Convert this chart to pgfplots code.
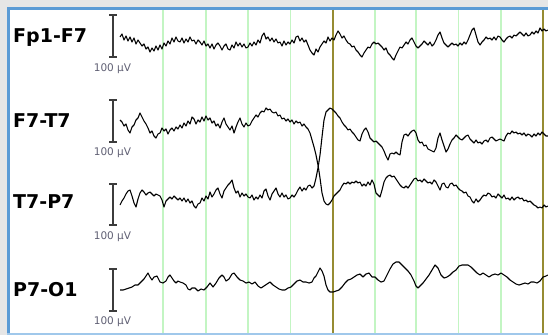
\documentclass[border=0pt]{standalone}
\usepackage{fontspec}
\setmainfont{DejaVu Sans}
\usepackage{pgfplots}
\pgfplotsset{compat=1.18}
\definecolor{bgray}{RGB}{230,230,230}
\definecolor{bblue}{RGB}{91,155,213}
\definecolor{lblue}{RGB}{160,200,235}
\definecolor{gridgreen}{RGB}{195,245,195}
\definecolor{olivel}{RGB}{150,140,50}
\definecolor{scalegray}{RGB}{60,60,60}
\definecolor{unitgray}{RGB}{95,95,115}
\tikzset{sbar/.style={scalegray, line width=1.2bp},
  chlab/.style={anchor=base west, inner sep=0pt, font=\bfseries\fontsize{19bp}{19bp}\selectfont},
  unitlab/.style={anchor=base, inner sep=0pt, text=unitgray, font=\fontsize{10.5bp}{10.5bp}\selectfont}}
\pgfplotsset{trace/.style={black, line width=1.1bp, line join=round, mark=none}}
\begin{document}
\begin{tikzpicture}
% frame (picture units: 1bp = 1 px, y up)
\fill[bgray] (0,0) rectangle (548bp,335bp);
\fill[white] (10bp,2bp) rectangle (548bp,325bp);
\fill[bblue] (7bp,325bp) rectangle (548bp,328bp);
\fill[bblue] (7bp,2bp) rectangle (10bp,328bp);
\fill[lblue] (7bp,0bp) rectangle (548bp,2bp);
\begin{axis}[
  at={(10bp,2bp)}, anchor=south west,
  scale only axis, width=538bp, height=323bp,
  xmin=10, xmax=548, ymin=10, ymax=333, y dir=reverse,
  axis line style={draw=none}, tick style={draw=none},
  xtick={163,206,248,290.7,375,416,458.3,501},
  xticklabels={}, ytick=\empty,
  xmajorgrids, major grid style={gridgreen, line width=1.2bp},
  extra x ticks={332.7,543.3}, extra x tick labels={},
  extra x tick style={grid=major, major grid style={olivel, line width=2bp}},
  clip=false,
  cycle list={{black, mark=none}},
]
% channel labels
\node[chlab] at (axis cs:13,42) {Fp1-F7};
\node[chlab] at (axis cs:13,127) {F7-T7};
\node[chlab] at (axis cs:13,208) {T7-P7};
\node[chlab] at (axis cs:13,296) {P7-O1};
% scale bars (100 uV)
\draw[sbar] (axis cs:109,15) -- (axis cs:117,15) (axis cs:113,15) -- (axis cs:113,57) (axis cs:109,57) -- (axis cs:117,57);
\draw[sbar] (axis cs:109,100) -- (axis cs:117,100) (axis cs:113,100) -- (axis cs:113,142) (axis cs:109,142) -- (axis cs:117,142);
\draw[sbar] (axis cs:109,184) -- (axis cs:117,184) (axis cs:113,184) -- (axis cs:113,225) (axis cs:109,225) -- (axis cs:117,225);
\draw[sbar] (axis cs:109,269) -- (axis cs:117,269) (axis cs:113,269) -- (axis cs:113,311) (axis cs:109,311) -- (axis cs:117,311);
\node[unitlab] at (axis cs:112.5,71.5) {100 µV};
\node[unitlab] at (axis cs:112.5,155) {100 µV};
\node[unitlab] at (axis cs:112.5,239.5) {100 µV};
\node[unitlab] at (axis cs:112.5,324) {100 µV};
% Fp1-F7
\addplot[trace] coordinates {
(120,37) (122,34) (124,40) (126,36) (128,41) (130,37) (132,42) (134,38) (136,44) (138,40)
(140,43) (142,46) (144,44) (146,49) (148,47) (150,52) (152,48) (154,51) (156,46) (158,50)
(160,45) (162,49) (164,43) (166,46) (168,41) (170,44) (172,38) (174,42) (176,37) (178,41)
(180,42) (182,38) (184,43) (186,39) (188,42) (190,37) (192,41) (194,40) (196,44) (198,40)
(200,42) (202,45) (204,41) (206,46) (208,44) (210,48) (212,44) (214,49) (216,45) (218,43)
(220,46) (222,50) (224,46) (226,44) (228,49) (230,50) (232,45) (234,48) (236,42) (238,46)
(240,43) (242,47) (244,44) (246,48) (248,47) (250,43) (252,46) (254,42) (256,45) (258,40)
(260,43) (262,36) (264,33) (266,39) (268,37) (270,41) (272,38) (274,42) (276,39) (278,43)
(280,42) (282,46) (284,41) (286,45) (288,42) (290,44) (292,40) (294,43) (296,37) (298,36)
(300,41) (302,38) (304,42) (306,40) (308,45) (310,50) (312,53) (314,55) (316,49) (318,52)
(320,47) (322,44) (324,41) (326,43) (328,37) (330,41) (332,38) (334,40) (336,35) (338,31)
(340,34) (342,38) (344,36) (346,40) (348,43) (350,44) (352,47) (354,46) (356,50) (358,52)
(360,55) (362,57) (364,53) (366,50) (368,47) (370,48) (372,44) (374,42) (376,44) (378,43)
(380,45) (382,47) (384,50) (386,48) (388,53) (390,55) (392,58) (394,60) (396,55) (398,51)
(400,47) (402,48) (404,45) (406,42) (408,44) (410,40) (412,38) (414,42) (416,46) (418,48)
(420,46) (422,44) (424,41) (426,43) (428,45) (430,42) (432,46) (434,44) (436,40) (438,35)
(440,32) (442,38) (444,43) (446,45) (448,47) (450,45) (452,43) (454,45) (456,44) (458,46)
(460,43) (462,45) (464,42) (466,44) (468,40) (470,35) (472,30) (474,28) (476,35) (478,42)
(480,45) (482,42) (484,40) (486,37) (488,39) (490,38) (492,40) (494,37) (496,40) (498,36)
(500,37) (502,40) (504,42) (506,39) (508,37) (510,36) (512,38) (514,35) (516,36) (518,34)
(520,32) (522,34) (524,36) (526,33) (528,36) (530,35) (532,32) (534,34) (536,31) (538,33)
(540,28) (542,31) (544,29) (546,31) (548,30)
};
% F7-T7
\addplot[trace] coordinates {
(120,120) (122,122) (124,126) (126,124) (128,130) (130,133) (132,127) (134,125) (136,120) (138,118)
(140,113) (142,117) (144,121) (146,124) (148,128) (150,133) (152,131) (154,136) (156,138) (158,134)
(160,133) (162,128) (164,131) (166,129) (168,134) (170,130) (172,128) (174,131) (176,127) (178,129)
(180,125) (182,128) (184,123) (186,126) (188,121) (190,124) (192,117) (194,119) (196,124) (198,120)
(200,122) (202,117) (204,121) (206,116) (208,120) (210,118) (212,123) (214,121) (216,126) (218,124)
(220,128) (222,122) (224,118) (226,124) (228,127) (230,130) (232,126) (234,133) (236,127) (238,122)
(240,118) (242,124) (244,127) (246,123) (248,126) (250,125) (252,121) (254,118) (256,115) (258,117)
(260,113) (262,111) (264,112) (266,108) (268,110) (270,109) (272,112) (274,113) (276,112) (278,116)
(280,115) (282,119) (284,118) (286,121) (288,119) (290,122) (292,120) (294,124) (296,121) (298,123)
(300,122) (302,126) (304,124) (306,127) (308,129) (310,133) (312,140) (314,147) (316,155) (318,165)
(320,178) (322,193) (324,201) (326,204) (328,205) (330,203) (332,200) (334,196) (336,194) (338,192)
(340,190) (342,186) (344,183) (346,184) (348,182) (350,184) (352,182) (354,183) (356,181) (358,183)
(360,182) (362,186) (364,184) (366,186) (368,182) (370,185) (372,180) (374,184) (376,193) (378,195)
(380,197) (382,190) (384,182) (386,178) (388,176) (390,175) (392,177) (394,176) (396,179) (398,182)
(400,185) (402,187) (404,188) (406,186) (408,188) (410,185) (412,182) (414,179) (416,178) (418,181)
(420,180) (422,182) (424,179) (426,181) (428,183) (430,182) (432,184) (434,180) (436,182) (438,186)
(440,190) (442,184) (444,183) (446,187) (448,188) (450,184) (452,183) (454,186) (456,185) (458,188)
(460,190) (462,191) (464,193) (466,192) (468,196) (470,197) (472,201) (474,203) (476,199) (478,202)
(480,200) (482,197) (484,195) (486,196) (488,193) (490,194) (492,197) (494,196) (496,198) (498,194)
(500,196) (502,198) (504,195) (506,199) (508,198) (510,200) (512,197) (514,200) (516,198) (518,197)
(520,199) (522,198) (524,201) (526,200) (528,202) (530,201) (532,203) (534,205) (536,206) (538,208)
(540,207) (542,208) (544,205) (546,207) (548,206)
};
% T7-P7
\addplot[trace] coordinates {
(120,205) (122,201) (124,198) (126,194) (128,191) (130,190) (132,196) (134,203) (136,207) (138,199)
(140,193) (142,190) (144,192) (146,195) (148,193) (150,192) (152,194) (154,196) (156,194) (158,195)
(160,196) (162,200) (164,207) (166,201) (168,199) (170,197) (172,199) (174,196) (176,198) (178,200)
(180,198) (182,201) (184,198) (186,202) (188,199) (190,203) (192,201) (194,206) (196,208) (198,204)
(200,203) (202,198) (204,201) (206,196) (208,199) (210,192) (212,197) (214,194) (216,190) (218,188)
(220,194) (222,198) (224,191) (226,188) (228,185) (230,183) (232,180) (234,188) (236,193) (238,191)
(240,197) (242,193) (244,196) (246,194) (248,197) (250,198) (252,195) (254,200) (256,197) (258,199)
(260,195) (262,198) (264,191) (266,189) (268,196) (270,200) (272,194) (274,191) (276,188) (278,194)
(280,197) (282,193) (284,197) (286,195) (288,199) (290,198) (292,195) (294,197) (296,194) (298,190)
(300,187) (302,191) (304,188) (306,190) (308,186) (310,185) (312,188) (314,186) (316,178) (318,168)
(320,155) (322,137) (324,120) (326,112) (328,110) (330,108) (332,109) (334,111) (336,113) (338,116)
(340,118) (342,122) (344,125) (346,127) (348,130) (350,129) (352,132) (354,134) (356,137) (358,140)
(360,141) (362,134) (364,130) (366,128) (368,132) (370,138) (372,140) (374,142) (376,141) (378,143)
(380,145) (382,147) (384,151) (386,156) (388,160) (390,154) (392,153) (394,154) (396,152) (398,154)
(400,155) (402,142) (404,135) (406,134) (408,136) (410,133) (412,131) (414,130) (416,133) (418,140)
(420,143) (422,142) (424,146) (426,145) (428,149) (430,150) (432,151) (434,152) (436,148) (438,138)
(440,133) (442,140) (444,146) (446,152) (448,149) (450,144) (452,140) (454,138) (456,135) (458,137)
(460,139) (462,140) (464,138) (466,136) (468,135) (470,139) (472,141) (474,143) (476,140) (478,143)
(480,142) (482,144) (484,141) (486,140) (488,142) (490,138) (492,137) (494,139) (496,141) (498,140)
(500,139) (502,140) (504,141) (506,136) (508,133) (510,134) (512,131) (514,133) (516,132) (518,134)
(520,133) (522,135) (524,133) (526,136) (528,134) (530,135) (532,137) (534,134) (536,136) (538,133)
(540,135) (542,132) (544,134) (546,136) (548,136)
};
% P7-O1
\addplot[trace] coordinates {
(120,290) (123,290) (126,289) (129,288) (132,287) (135,285) (138,285) (141,282) (144,279) (146,276)
(148,273) (150,277) (152,280) (154,277) (157,276) (160,282) (163,283) (166,281) (168,277) (170,275)
(172,278) (174,281) (176,283) (178,281) (180,282) (183,283) (186,285) (188,289) (190,290) (192,288)
(195,288) (198,291) (201,289) (204,290) (207,287) (210,283) (213,287) (216,283) (219,278) (222,275)
(224,277) (226,281) (229,279) (232,274) (234,273) (237,277) (240,280) (243,281) (246,283) (249,282)
(252,284) (255,282) (258,286) (261,288) (264,286) (267,284) (270,282) (273,285) (276,287) (279,289)
(282,290) (285,290) (288,288) (291,287) (294,284) (297,281) (300,280) (303,282) (306,282) (309,283)
(312,282) (314,278) (316,276) (318,272) (320,268) (322,271) (324,276) (326,285) (328,290) (330,292)
(333,292) (336,291) (339,290) (342,287) (345,283) (348,280) (351,279) (354,277) (357,275) (360,274)
(363,277) (366,274) (369,273) (372,277) (375,277) (378,280) (381,282) (384,281) (387,275) (390,269)
(393,264) (396,262) (399,262) (402,265) (405,268) (408,271) (411,275) (414,281) (416,286) (418,288)
(420,286) (423,283) (426,279) (429,275) (432,270) (435,265) (438,268) (441,275) (444,278) (447,277)
(450,275) (453,272) (456,270) (459,266) (462,265) (465,265) (468,265) (471,267) (474,270) (477,273)
(480,275) (483,273) (486,275) (489,277) (492,275) (495,274) (498,275) (501,273) (504,275) (507,277)
(510,280) (513,282) (516,284) (519,285) (522,284) (525,283) (528,284) (531,282) (534,282) (537,283)
(540,281) (543,277) (546,276) (548,275)
};
\end{axis}
\pgfresetboundingbox
\path[use as bounding box] (0,0) rectangle (548bp,335bp);
\end{tikzpicture}
\end{document}
